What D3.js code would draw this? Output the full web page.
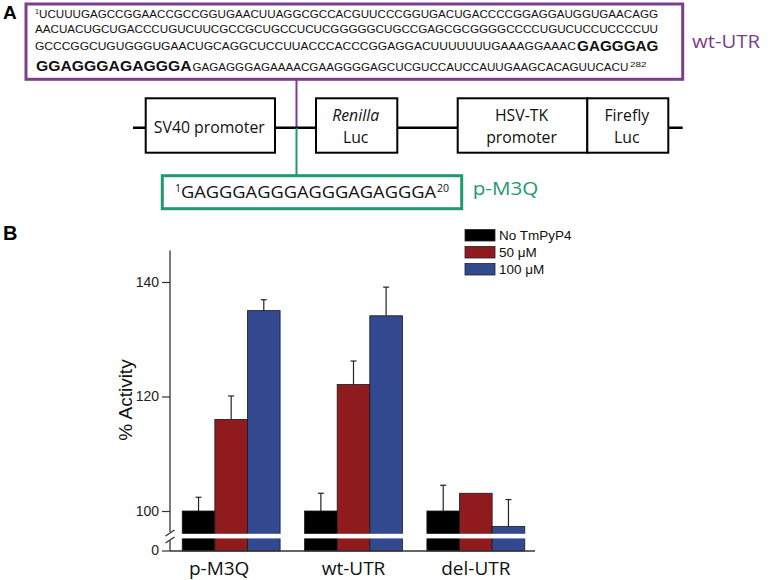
<!DOCTYPE html>
<html><head><meta charset="utf-8">
<script src="https://cdn.jsdelivr.net/npm/d3@7"></script>
<style>body{margin:0;background:#fff}svg{display:block}</style>
</head><body>
<svg id="c" width="771" height="580"></svg>
<script>
// ---- data ----
const categories = ["p-M3Q", "wt-UTR", "del-UTR"];
const seriesNames = ["No TmPyP4", "50 μM", "100 μM"];
const noDrug  = [100, 100, 100];
const drug50  = [116.0, 122.1, 103.1];
const drug100 = [135.0, 134.1, 97.3];
const errNo   = [2.4, 3.1, 4.5];
const err50   = [4.1, 4.1, 0];
const err100  = [1.9, 5.0, 4.7];
const yTicks  = [100, 120, 140];
const seqRow1 = "UCUUUGAGCCGGAACCGCCGGUGAACUUAGGCGCCACGUUCCCGGUGACUGACCCCGGAGGAUGGUGAACAGG";
const seqRow2 = "AACUACUGCUGACCCUGUCUUCGCCGCUGCCUCUCGGGGGCUGCCGAGCGCGGGGCCCCUGUCUCCUCCCCUU";
const seqRow3 = "GCCCGGCUGUGGGUGAACUGCAGGCUCCUUACCCACCCGGAGGACUUUUUUUGAAAGGAAAC";
const seqRow3b = "GAGGGAG";
const seqRow4b = "GGAGGGAGAGGGA";
const seqRow4 = "GAGAGGGAGAAAACGAAGGGGAGCUCGUCCAUCCAUUGAAGCACAGUUCACU";
const m3qSeq = "GAGGGAGGGAGGGAGAGGGA";

const colors = ["#000000", "#8f1b1f", "#33498f"];
const purple = "#7b3f8d", green = "#1f9a6a";
const svg = d3.select("#c");
const calibri = "'Open Sans', sans-serif";
const arial = "'Liberation Sans', Arial, sans-serif";

// ---- Panel A ----
svg.append("text").attr("x", 3).attr("y", 19).text("A")
  .attr("font-family", arial).attr("font-weight", "bold").attr("font-size", 19);

svg.append("rect").attr("x", 26).attr("y", 4).attr("width", 656.7).attr("height", 75.3)
  .attr("fill", "none").attr("stroke", purple).attr("stroke-width", 3);

const seq = svg.append("g").attr("font-family", arial).attr("fill", "#111");
function tsp(t, x, y, len, size, bold){
  const e = seq.append("text").attr("x", x).attr("y", y).attr("font-size", size).text(t);
  if (bold) e.attr("font-weight", "bold");
  if (len) e.attr("textLength", len).attr("lengthAdjust", "spacingAndGlyphs");
  return e;
}
tsp("1", 35, 14, null, 7);
tsp(seqRow1, 39, 18.3, 619, 11.5);
tsp(seqRow2, 35, 32.7, 623, 11.5);
tsp(seqRow3, 35, 50, 541, 11.5);
tsp(seqRow3b, 577, 50.5, 81.5, 15.5, true);
tsp(seqRow4b, 36, 70.7, 155.7, 15.5, true);
tsp(seqRow4, 192.5, 70.7, 435.8, 11.5);
tsp("282", 630, 66.5, 16.5, 7);

svg.append("text").attr("x", 692).attr("y", 48.3).text("wt-UTR")
  .attr("font-family", calibri).attr("font-size", 18).attr("fill", purple)
  .attr("textLength", 68).attr("lengthAdjust", "spacingAndGlyphs");

// connectors
svg.append("line").attr("x1", 296.5).attr("x2", 296.5).attr("y1", 79.3).attr("y2", 127.7)
  .attr("stroke", purple).attr("stroke-width", 2);
svg.append("line").attr("x1", 133).attr("x2", 682.7).attr("y1", 127.7).attr("y2", 127.7)
  .attr("stroke", "#000").attr("stroke-width", 2.5);
svg.append("line").attr("x1", 296.5).attr("x2", 296.5).attr("y1", 127.7).attr("y2", 175.7)
  .attr("stroke", green).attr("stroke-width", 2);

const boxes = [
  {x: 145.7, w: 129.3, lines: [["SV40 promoter", 132.5, false]]},
  {x: 316, w: 81.3, lines: [["Renilla", 120.7, true], ["Luc", 142.7, false]]},
  {x: 457.7, w: 129.6, lines: [["HSV-TK", 120.7, false], ["promoter", 142.7, false]]},
  {x: 587.3, w: 81, lines: [["Firefly", 120.7, false], ["Luc", 142.7, false]]}
];
boxes.forEach(b => {
  svg.append("rect").attr("x", b.x).attr("y", 98.3).attr("width", b.w).attr("height", 54.4)
    .attr("fill", "#fff").attr("stroke", "#000").attr("stroke-width", 2);
  b.lines.forEach(l => {
    svg.append("text").attr("x", b.x + b.w / 2 - 1).attr("y", l[1]).text(l[0])
      .attr("text-anchor", "middle").attr("font-family", calibri).attr("font-size", 15.8)
      .attr("font-style", l[2] ? "italic" : "normal").attr("fill", "#111");
  });
});

svg.append("rect").attr("x", 162.3).attr("y", 175.7).attr("width", 299.4).attr("height", 33)
  .attr("fill", "none").attr("stroke", green).attr("stroke-width", 3);
const gt = svg.append("text").attr("font-family", calibri).attr("fill", "#111");
gt.append("tspan").attr("x", 175).attr("y", 192).attr("font-size", 10.5).text("1");
gt.append("tspan").attr("x", 181).attr("y", 198.3).attr("font-size", 17).text(m3qSeq)
  .attr("textLength", 255).attr("lengthAdjust", "spacingAndGlyphs");
gt.append("tspan").attr("x", 437).attr("y", 192).attr("font-size", 10.5).text("20");
svg.append("text").attr("x", 472.7).attr("y", 195).text("p-M3Q")
  .attr("font-family", calibri).attr("font-size", 19).attr("fill", green)
  .attr("textLength", 65.7).attr("lengthAdjust", "spacingAndGlyphs");

// ---- Panel B ----
svg.append("text").attr("x", 3).attr("y", 240).text("B")
  .attr("font-family", arial).attr("font-weight", "bold").attr("font-size", 20);

const axisX = 170, baseY = 551, axisRight = 535;
const y = d3.scaleLinear().domain([100, 140]).range([511, 282]);
const x0 = d3.scaleBand().domain(categories).range([axisX, 537]).paddingInner(0.2).paddingOuter(0.1);
const x1 = d3.scaleBand().domain(seriesNames).range([0, x0.bandwidth()]);

const values = [noDrug, drug50, drug100];
const errs = [errNo, err50, err100];
const rows = [];
categories.forEach((c, i) => seriesNames.forEach((s, j) =>
  rows.push({c, s, j, v: values[j][i], e: errs[j][i]})));

const plot = svg.append("g");
plot.selectAll("rect.bar").data(rows).join("rect").attr("class", "bar")
  .attr("x", d => x0(d.c) + x1(d.s)).attr("width", x1.bandwidth())
  .attr("y", d => y(d.v)).attr("height", d => baseY - y(d.v))
  .attr("fill", d => colors[d.j]).attr("stroke", "#1a1a1a").attr("stroke-width", 0.8);

// break band
plot.append("rect").attr("x", axisX + 1).attr("y", 533.8).attr("width", axisRight - axisX).attr("height", 4.6)
  .attr("fill", "#fff");

// error bars
const eb = plot.selectAll("g.err").data(rows.filter(d => d.e > 0)).join("g").attr("class", "err")
  .attr("stroke", "#222").attr("stroke-width", 1.2);
eb.append("line").attr("x1", d => x0(d.c) + x1(d.s) + x1.bandwidth() / 2)
  .attr("x2", d => x0(d.c) + x1(d.s) + x1.bandwidth() / 2)
  .attr("y1", d => y(d.v)).attr("y2", d => y(d.v + d.e));
eb.append("line").attr("x1", d => x0(d.c) + x1(d.s) + x1.bandwidth() / 2 - 3)
  .attr("x2", d => x0(d.c) + x1(d.s) + x1.bandwidth() / 2 + 3)
  .attr("y1", d => y(d.v + d.e)).attr("y2", d => y(d.v + d.e));

// y axis
const yAxis = svg.append("g").attr("transform", `translate(${axisX},0)`)
  .call(d3.axisLeft(y).tickValues(yTicks).tickSize(8).tickPadding(3));
yAxis.select(".domain").remove();
yAxis.selectAll("line").attr("stroke", "#333").attr("stroke-width", 1.2);
yAxis.selectAll("text").attr("font-family", arial).attr("font-size", 14).attr("fill", "#222");
yAxis.append("line").attr("x1", -8).attr("x2", 0).attr("y1", baseY).attr("y2", baseY)
  .attr("stroke", "#333").attr("stroke-width", 1.2);
yAxis.append("text").attr("x", -11).attr("y", baseY).attr("dy", "0.32em").attr("text-anchor", "end")
  .text("0").attr("font-family", arial).attr("font-size", 14).attr("fill", "#222");

const ax = svg.append("g").attr("stroke", "#333").attr("stroke-width", 1.3);
ax.append("line").attr("x1", axisX).attr("x2", axisX).attr("y1", y(145.5)).attr("y2", 532);
ax.append("line").attr("x1", axisX).attr("x2", axisX).attr("y1", 540).attr("y2", baseY);
ax.append("line").attr("x1", axisX).attr("x2", axisRight).attr("y1", baseY).attr("y2", baseY);
ax.append("line").attr("x1", 165.5).attr("x2", 174.5).attr("y1", 536).attr("y2", 530);
ax.append("line").attr("x1", 165.5).attr("x2", 174.5).attr("y1", 543).attr("y2", 537);

// x labels
const labelOffset = {"p-M3Q": -12};
svg.append("g").selectAll("text").data(categories).join("text")
  .attr("x", d => x0(d) + x0.bandwidth() / 2 + (labelOffset[d] || 0)).attr("y", 575)
  .attr("text-anchor", "middle").text(d => d)
  .attr("font-family", calibri).attr("font-size", 19).attr("fill", "#111");

// y label
svg.append("text").attr("transform", "translate(131.5,400) rotate(-90)")
  .attr("text-anchor", "middle").text("% Activity")
  .attr("font-family", arial).attr("font-size", 19).attr("fill", "#111");

// legend
const lg = svg.append("g").selectAll("g").data(seriesNames).join("g")
  .attr("transform", (d, i) => `translate(465,${229.5 + i * 17})`);
lg.append("rect").attr("width", 30).attr("height", 11.5)
  .attr("fill", (d, i) => colors[i]).attr("stroke", "#222").attr("stroke-width", 0.8);
lg.append("text").attr("x", 34).attr("y", 5.8).attr("dy", "0.35em").text(d => d)
  .attr("font-family", arial).attr("font-size", 13.5).attr("fill", "#111");
</script>
</body></html>
